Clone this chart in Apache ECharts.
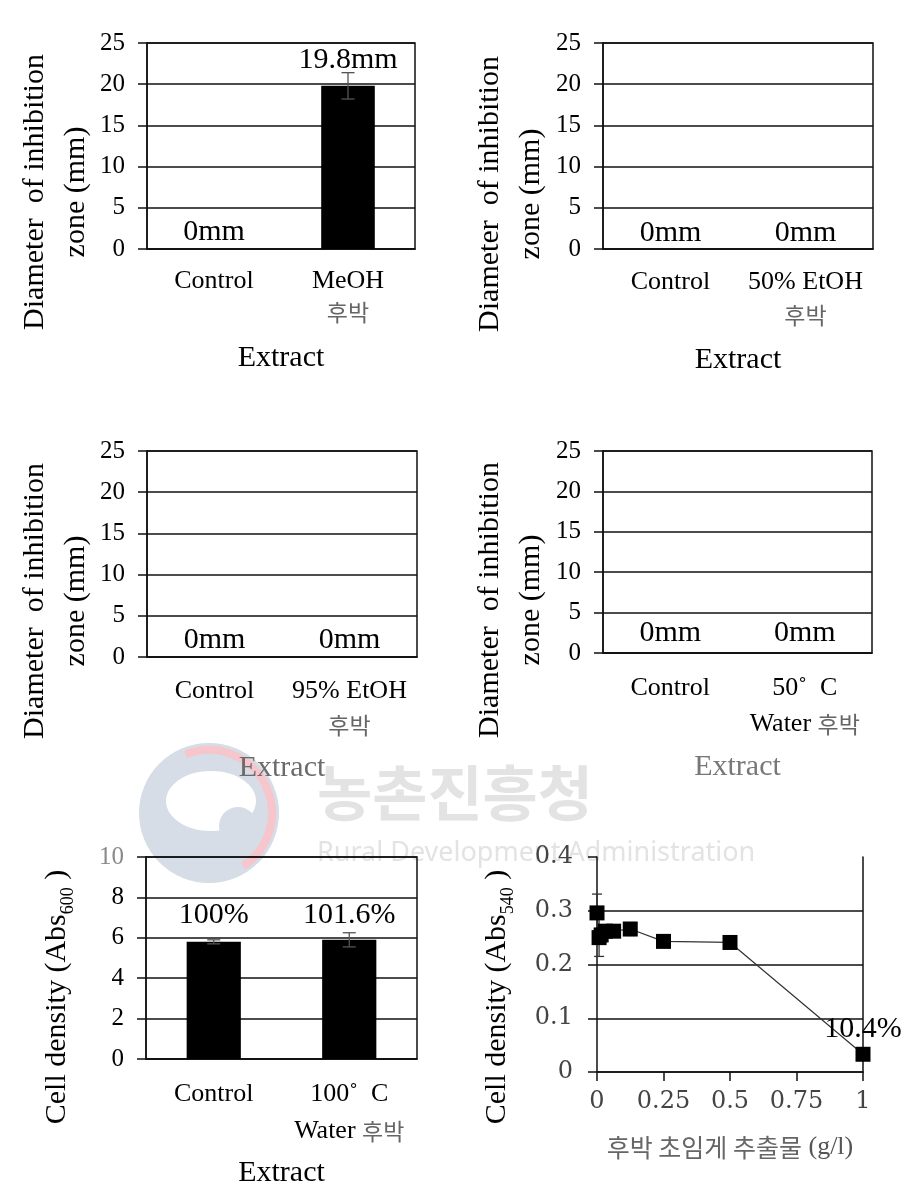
<!DOCTYPE html>
<html><head><meta charset="utf-8">
<script src="https://cdn.jsdelivr.net/npm/echarts@6/dist/echarts.min.js"></script>
<style>html,body{margin:0;padding:0;background:#fff}#c{width:917px;height:1204px}</style>
</head><body><div id="c"></div>
<script>
// ---------- data ----------
const meohCategories = ['Control', 'MeOH\n후박'];
const meohValues = [0, 19.8];
const meohErrors = [0, 1.6];
const meohLabels = ['0mm', '19.8mm'];

const etoh50Categories = ['Control', '50% EtOH\n후박'];
const etoh50Values = [0, 0];
const etoh50Labels = ['0mm', '0mm'];

const etoh95Categories = ['Control', '95% EtOH\n후박'];
const etoh95Values = [0, 0];
const etoh95Labels = ['0mm', '0mm'];

const water50Categories = ['Control', '50˚  C\nWater 후박'];
const water50Values = [0, 0];
const water50Labels = ['0mm', '0mm'];

const water100Categories = ['Control', '100˚  C\nWater 후박'];
const water100Values = [5.8, 5.9];
const water100Errors = [0.1, 0.35];
const water100Labels = ['100%', '101.6%'];

const inhibitionTicks = [0, 5, 10, 15, 20, 25];
const cellTicks = [0, 2, 4, 6, 8, 10];

const concentration = [0, 0.0078, 0.0156, 0.03125, 0.0625, 0.125, 0.25, 0.5, 1];
const concDensity = [0.296, 0.25, 0.255, 0.262, 0.262, 0.266, 0.243, 0.241, 0.033];
const concErrors = [0.035, 0.035, 0.015, 0.01, 0.01, 0.012, 0.004, 0.004, 0.003];
const concLabels = ['', '', '', '', '', '', '', '', '10.4%'];
const concTicks = [0, 0.25, 0.5, 0.75, 1];
const densityTicks = [0, 0.1, 0.2, 0.3, 0.4];

// ---------- styling helpers ----------
const serif = '"Liberation Serif", "Times New Roman", serif';
const kor = '"Noto Sans CJK KR", sans-serif';
const ink = '#111';
const catFormatter = v => v.split('\n').map(l => l.replace(/([\uAC00-\uD7A3]+)/g, '{k|$1}')).join('\n');

const grids = [
  {left: 147, top: 43, width: 268, height: 206},
  {left: 603, top: 43, width: 270, height: 206},
  {left: 147, top: 451, width: 270, height: 206},
  {left: 603, top: 451, width: 269, height: 202},
  {left: 146, top: 857, width: 271, height: 202},
  {left: 597, top: 857, width: 266, height: 215}
];

const barPanels = [
  {cats: meohCategories, vals: meohValues, errs: meohErrors, labels: meohLabels, dist: [2, 11], ticks: inhibitionTicks, nameGap: 94, lineH: 31, nameColor: '#000'},
  {cats: etoh50Categories, vals: etoh50Values, errs: null, labels: etoh50Labels, dist: [1, 1], ticks: inhibitionTicks, nameGap: 96, lineH: 33, nameColor: '#000'},
  {cats: etoh95Categories, vals: etoh95Values, errs: null, labels: etoh95Labels, dist: [2, 2], ticks: inhibitionTicks, nameGap: 96, lineH: 34, nameColor: '#6b6b6b'},
  {cats: water50Categories, vals: water50Values, errs: null, labels: water50Labels, dist: [5, 5], ticks: inhibitionTicks, nameGap: 99, lineH: 36, nameColor: '#777'},
  {cats: water100Categories, vals: water100Values, errs: water100Errors, labels: water100Labels, dist: [12, 10], ticks: cellTicks, nameGap: 99, lineH: 37, nameColor: '#000'}
];

function errorSeries(idx, xs, ys, errs, cap, color) {
  const data = [];
  xs.forEach((x, i) => { if (errs[i] > 0) data.push([x, ys[i] - errs[i], ys[i] + errs[i]]); });
  return {
    type: 'custom', xAxisIndex: idx, yAxisIndex: idx, z: 4, silent: true,
    data: data,
    renderItem: (params, api) => {
      const lo = api.coord([api.value(0), api.value(1)]);
      const hi = api.coord([api.value(0), api.value(2)]);
      const st = {stroke: color, lineWidth: 1.3};
      return {type: 'group', children: [
        {type: 'line', shape: {x1: lo[0], y1: lo[1], x2: hi[0], y2: hi[1]}, style: st},
        {type: 'line', shape: {x1: lo[0] - cap, y1: lo[1], x2: lo[0] + cap, y2: lo[1]}, style: st},
        {type: 'line', shape: {x1: hi[0] - cap, y1: hi[1], x2: hi[0] + cap, y2: hi[1]}, style: st}
      ]};
    }
  };
}

const xAxes = [], yAxes = [], series = [];
barPanels.forEach((p, i) => {
  xAxes.push({
    type: 'category', gridIndex: i, data: p.cats,
    name: 'Extract', nameLocation: 'middle', nameGap: p.nameGap,
    nameTextStyle: {fontFamily: serif, fontSize: 30, color: p.nameColor},
    axisLine: {lineStyle: {color: ink, width: 1.5}},
    axisTick: {length: 10, lineStyle: {color: ink, width: 1.5}},
    axisLabel: {interval: 0, fontFamily: serif, fontSize: 26, color: '#000', margin: 17, lineHeight: p.lineH,
      formatter: catFormatter,
      rich: {k: {fontFamily: kor, fontSize: 23, color: '#666', lineHeight: p.lineH}}}
  });
  const t = p.ticks;
  yAxes.push({
    type: 'value', gridIndex: i, min: t[0], max: t[t.length - 1], interval: t[1] - t[0],
    axisLine: {show: true, lineStyle: {color: ink, width: 1.5}},
    axisTick: {show: true, length: 9, lineStyle: {color: ink, width: 1.5}},
    axisLabel: {fontFamily: serif, fontSize: 25, margin: 22,
      color: (v) => (i === 4 && Number(v) === 10) ? '#8a8a8a' : '#000'},
    splitLine: {lineStyle: {color: ink, width: 1.5}}
  });
  series.push({
    type: 'bar', xAxisIndex: i, yAxisIndex: i, barWidth: '40%', z: 3,
    itemStyle: {color: '#000'},
    data: p.vals.map((v, j) => ({value: v, label: {distance: p.dist[j]}})),
    label: {show: true, position: 'top', fontFamily: serif, fontSize: 30, color: '#000',
      formatter: (pp) => p.labels[pp.dataIndex]}
  });
  if (p.errs) series.push(errorSeries(i, p.vals.map((v, j) => j), p.vals, p.errs, 6.5, '#555'));
});

// panel 6 (line chart)
xAxes.push({
  type: 'value', gridIndex: 5, min: concTicks[0], max: concTicks[concTicks.length - 1], interval: concTicks[1] - concTicks[0],
  name: '{k|후박 초임게 추출물} (g/l)', nameLocation: 'middle', nameGap: 62,
  nameTextStyle: {fontFamily: serif, fontSize: 26, color: '#555', rich: {k: {fontFamily: kor, fontSize: 25, color: '#666'}}},
  axisLine: {lineStyle: {color: ink, width: 1.5}},
  axisTick: {show: true, length: 9, lineStyle: {color: ink, width: 1.5}},
  axisLabel: {fontFamily: '"DejaVu Serif", serif', fontSize: 24, color: '#444', margin: 18},
  splitLine: {show: false}
});
yAxes.push({
  type: 'value', gridIndex: 5, min: densityTicks[0], max: densityTicks[densityTicks.length - 1], interval: densityTicks[1] - densityTicks[0],
  axisLine: {show: true, lineStyle: {color: ink, width: 1.5}},
  axisTick: {show: true, length: 9, lineStyle: {color: ink, width: 1.5}},
  axisLabel: {fontFamily: '"DejaVu Serif", serif', fontSize: 24, color: '#444', margin: 24},
  splitLine: {show: true, showMaxLine: false, lineStyle: {color: ink, width: 1.5}}
});
yAxes.push({
  type: 'value', gridIndex: 5, position: 'right', min: 0, max: 0.4,
  axisLine: {show: true, lineStyle: {color: ink, width: 1.5}},
  axisTick: {show: false}, axisLabel: {show: false}, splitLine: {show: false}
});
series.push(errorSeries(5, concentration, concDensity, concErrors, 5, '#333'));
series.push({
  type: 'line', xAxisIndex: 5, yAxisIndex: 5, z: 5,
  data: concentration.map((x, i) => [x, concDensity[i]]),
  symbol: 'rect', symbolSize: 15,
  itemStyle: {color: '#000'},
  lineStyle: {color: '#333', width: 1.2},
  label: {show: true, position: 'top', distance: 3, fontFamily: serif, fontSize: 30, color: '#000',
    formatter: (pp) => concLabels[pp.dataIndex]}
});

// y-axis titles & watermark
function yTitle(x, y, text, rich) {
  return {type: 'text', x: x, y: y, rotation: Math.PI / 2,
    style: {text: text, fontFamily: serif, fontSize: 30, fill: '#000', align: 'center', verticalAlign: 'middle', lineHeight: 41, rich: rich}};
}
const subRich = {s: {fontFamily: serif, fontSize: 18, fill: '#000', verticalAlign: 'bottom', padding: [12, 0, 0, 0]}};
const graphics = [
  // watermark (behind)
  {type: 'circle', z: -10, shape: {cx: 209, cy: 813, r: 70}, style: {fill: '#d6dde6'}},
  {type: 'ellipse', z: -10, shape: {cx: 211, cy: 801, rx: 45, ry: 30}, style: {fill: '#fff'}},
  {type: 'circle', z: -10, shape: {cx: 238, cy: 826, r: 19}, style: {fill: '#d6dde6'}},
  {type: 'arc', z: -10, shape: {cx: 209, cy: 813, r: 63, startAngle: -1.95, endAngle: 1.0, clockwise: true}, style: {stroke: '#f6c6cc', lineWidth: 8, fill: null}},
  {type: 'text', z: -10, x: 455, y: 793, style: {text: '농촌진흥청', fontFamily: kor, fontSize: 60, fontWeight: 'bold', fill: '#e3e3e3', align: 'center', verticalAlign: 'middle'}},
  {type: 'text', z: -10, x: 317, y: 853, style: {text: 'Rural Development Administration', fontFamily: '"Noto Sans", sans-serif', fontSize: 27, fill: '#e3e3e3', align: 'left', verticalAlign: 'middle'}},
  // axis titles
  yTitle(56, 192, 'Diameter  of inhibition\nzone (mm)'),
  yTitle(511, 194, 'Diameter  of inhibition\nzone (mm)'),
  yTitle(56, 601, 'Diameter  of inhibition\nzone (mm)'),
  yTitle(511, 600, 'Diameter  of inhibition\nzone (mm)'),
  yTitle(57, 997, 'Cell density (Abs{s|600} )', subRich),
  yTitle(497, 997, 'Cell density (Abs{s|540} )', subRich)
];

const chart = echarts.init(document.getElementById('c'), null, {renderer: 'canvas'});
chart.setOption({
  animation: false,
  backgroundColor: '#fff',
  grid: grids.map((g, i) => Object.assign({}, g, i < 5 ? {show: true, borderColor: ink, borderWidth: 1.5} : {show: false})),
  xAxis: xAxes,
  yAxis: yAxes,
  series: series,
  graphic: graphics
});
</script>
</body></html>
